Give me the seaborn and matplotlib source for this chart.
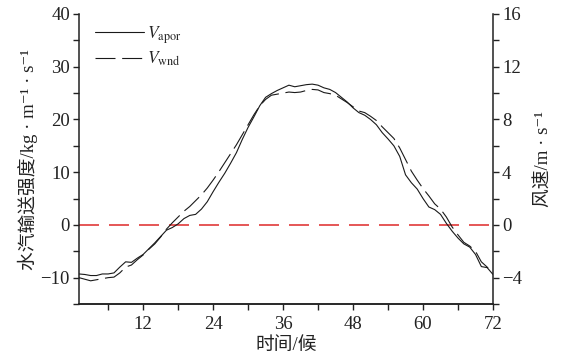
import numpy as np
import pandas as pd
import matplotlib
matplotlib.use("Agg")
import matplotlib.pyplot as plt
import seaborn as sns
from matplotlib.lines import Line2D

# ---------------- data ----------------
pentads = list(range(1, 73))
vapor = [-9.3, -9.4, -9.6, -9.6, -9.3, -9.3, -9.1, -8.0, -7.0, -7.1,
         -6.3, -5.6, -4.5, -3.4, -2.2, -1.0, -0.5, 0.2, 1.2, 1.8,
         2.0, 3.0, 4.4, 6.3, 8.1, 9.8, 11.7, 13.7, 16.2, 18.5,
         20.5, 22.6, 24.2, 24.9, 25.5, 26.0, 26.5, 26.2, 26.4, 26.6,
         26.7, 26.5, 26.0, 25.7, 25.1, 24.2, 23.3, 22.2, 21.3, 20.8,
         20.0, 19.0, 17.5, 16.3, 15.0, 13.0, 9.5, 8.0, 6.8, 5.0,
         3.4, 2.9, 2.0, 0.3, -1.2, -2.5, -3.6, -4.2, -5.6, -7.9,
         -8.1, -9.4]
wind = [-4.00, -4.12, -4.24, -4.16, -4.08, -4.00, -3.96, -3.64, -3.20, -3.04,
        -2.64, -2.28, -1.84, -1.44, -0.92, -0.32, 0.16, 0.60, 1.04, 1.40,
        1.84, 2.28, 2.80, 3.40, 4.04, 4.72, 5.40, 6.08, 6.84, 7.60,
        8.36, 9.04, 9.52, 9.84, 9.92, 10.00, 10.08, 10.04, 10.08, 10.20,
        10.28, 10.24, 10.04, 9.96, 9.84, 9.56, 9.28, 8.96, 8.64, 8.52,
        8.24, 7.92, 7.44, 7.00, 6.56, 5.84, 4.96, 4.08, 3.40, 2.76,
        2.20, 1.60, 1.20, 0.60, -0.16, -0.76, -1.32, -1.60, -2.00, -2.80,
        -3.20, -3.68]

x_ticks = [12, 24, 36, 48, 60, 72]
left_ticks = [-10, 0, 10, 20, 30, 40]
right_ticks = [-4, 0, 4, 8, 12, 16]
left_labels = ["\u221210", "0", "10", "20", "30", "40"]
right_labels = ["\u22124", "0", "4", "8", "12", "16"]

df = pd.DataFrame({"pentad": pentads, "vapor": vapor, "wind": wind})

# ---------------- style ----------------
sns.set_theme(style="ticks")
FAM = ["Liberation Serif", "Noto Sans CJK SC", "DejaVu Sans"]
plt.rcParams["font.family"] = FAM
plt.rcParams["mathtext.fontset"] = "stix"
plt.rcParams["axes.unicode_minus"] = True

fig = plt.figure(figsize=(5.61, 3.58), dpi=100)
ax = fig.add_axes([0.1408, 0.1508, 0.8788 - 0.1408, 0.9609 - 0.1508])
ax2 = ax.twinx()

sns.lineplot(data=df, x="pentad", y="vapor", ax=ax, color="#1a1a1a",
             lw=0.8, legend=False)
sns.lineplot(data=df, x="pentad", y="wind", ax=ax2, color="#1a1a1a",
             lw=0.8, legend=False)
ax2.lines[0].set_dashes((18, 6))

ax.axhline(0, color="#e03a3a", lw=1.2, dashes=(12, 6), zorder=1)

ax.set_xlim(1, 72)
ax.set_ylim(-15, 40)
ax2.set_ylim(-6, 16)

ax.set_xticks(x_ticks)
ax.set_xticks(np.arange(6, 73, 6), minor=True)
ax.set_yticks(left_ticks)
ax.set_yticks(np.arange(-15, 41, 5), minor=True)
ax2.set_yticks(right_ticks)
ax2.set_yticks(np.arange(-6, 17, 2), minor=True)

ax.set_yticklabels(left_labels)
ax2.set_yticklabels(right_labels)

for a in (ax, ax2):
    a.tick_params(which="both", direction="out", length=4.5, width=1.0,
                  color="#222222", labelsize=13.5, labelcolor="#222222", pad=2)
    for s in a.spines.values():
        s.set_linewidth(1.1)
        s.set_color("#222222")
    a.spines["top"].set_visible(False)
    a.grid(False)
ax.tick_params(axis="x", pad=4)
ax2.spines["left"].set_visible(False)
ax.spines["right"].set_visible(False)

ax.set_xlabel("时间/候", fontsize=13.5, color="#222222", labelpad=3)
ax.set_ylabel("水汽输送强度/kg · m\u207b\u00b9 · s\u207b\u00b9", fontsize=13.5,
              color="#222222", labelpad=2)
ax2.set_ylabel("风速/m · s\u207b\u00b9", fontsize=13.5, color="#222222",
               labelpad=10)

handles = [Line2D([], [], color="#1a1a1a", lw=0.8),
           Line2D([], [], color="#1a1a1a", lw=0.8, dashes=(18, 6))]
ax.legend(handles, [r"$V_{\rm apor}$", r"$V_{\rm wnd}$"], loc="upper left",
          frameon=False, fontsize=12.5, handlelength=2.8, handletextpad=0.2,
          labelspacing=0.25, borderpad=0, borderaxespad=0,
          bbox_to_anchor=(0.039, 0.965))

fig.savefig("out.png", dpi=100)
